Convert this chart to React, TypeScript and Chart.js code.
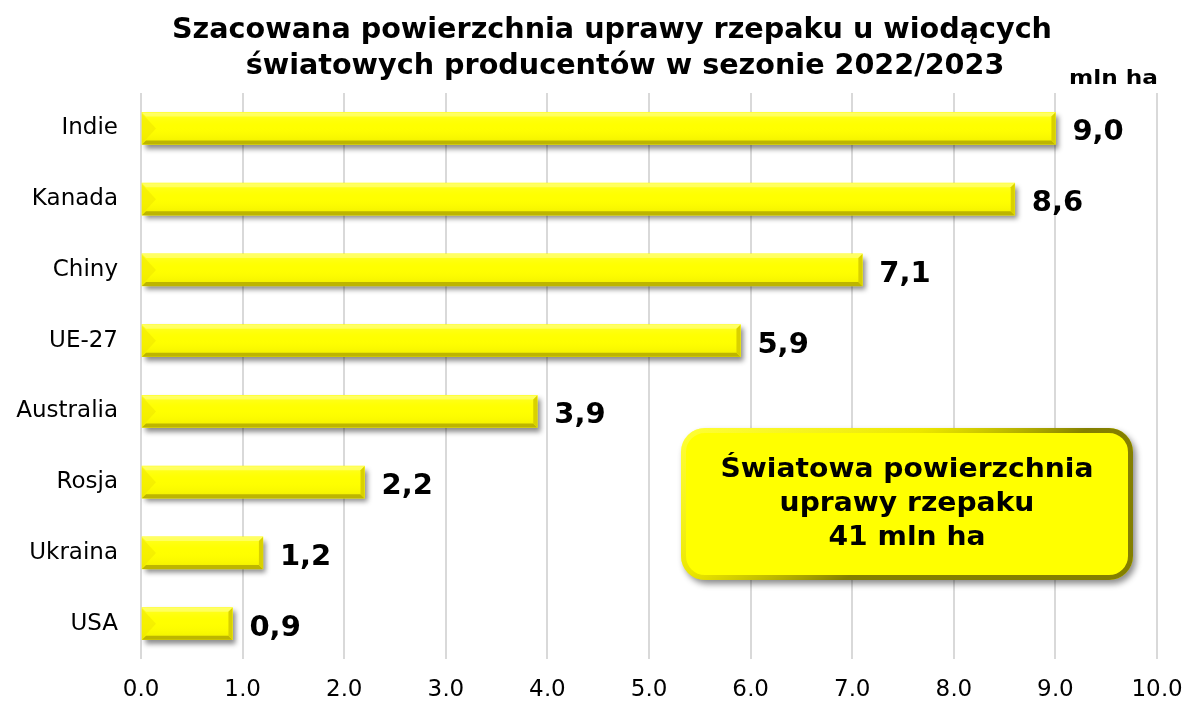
import React, { useEffect, useRef } from "react";
import { Chart, registerables } from "chart.js";

Chart.register(...registerables);

const categories = ["Indie", "Kanada", "Chiny", "UE-27", "Australia", "Rosja", "Ukraina", "USA"];
const values = [9.0, 8.6, 7.1, 5.9, 3.9, 2.2, 1.2, 0.9];
const xMin = 0;
const xMax = 10;
const xStep = 1;
const titleLines = [
  "Szacowana powierzchnia uprawy rzepaku u wiodących",
  "światowych producentów w sezonie 2022/2023",
];
const unitLabel = "mln ha";
const boxLines = ["Światowa powierzchnia", "uprawy rzepaku", "41 mln ha"];

const FONT = "'DejaVu Sans', Verdana, sans-serif";
const fmt = (v: number) => Number(v).toFixed(1).replace(".", ",");

function stretchText(
  ctx: CanvasRenderingContext2D,
  text: string,
  x: number,
  y: number,
  font: string,
  sx: number,
  align: CanvasTextAlign
) {
  ctx.save();
  ctx.font = font;
  ctx.fillStyle = "#000";
  ctx.textAlign = align;
  ctx.textBaseline = "alphabetic";
  ctx.translate(x, y);
  ctx.scale(sx, 1);
  ctx.fillText(text, 0, 0);
  ctx.restore();
}

function fitScale(ctx: CanvasRenderingContext2D, text: string, font: string, target: number) {
  ctx.save();
  ctx.font = font;
  const w = ctx.measureText(text).width;
  ctx.restore();
  return w > 0 ? target / w : 1;
}

function roundRectPath(ctx: CanvasRenderingContext2D, x: number, y: number, w: number, h: number, r: number) {
  ctx.beginPath();
  ctx.moveTo(x + r, y);
  ctx.lineTo(x + w - r, y);
  ctx.arcTo(x + w, y, x + w, y + r, r);
  ctx.lineTo(x + w, y + h - r);
  ctx.arcTo(x + w, y + h, x + w - r, y + h, r);
  ctx.lineTo(x + r, y + h);
  ctx.arcTo(x, y + h, x, y + h - r, r);
  ctx.lineTo(x, y + r);
  ctx.arcTo(x, y, x + r, y, r);
  ctx.closePath();
}

const decorPlugin = {
  id: "decor",
  beforeDatasetsDraw(chart: any) {
    const ctx = chart.ctx as CanvasRenderingContext2D;
    ctx.save();
    ctx.shadowColor = "rgba(0,0,0,0.45)";
    ctx.shadowBlur = 5;
    ctx.shadowOffsetX = 3;
    ctx.shadowOffsetY = 4;
  },
  afterDatasetsDraw(chart: any) {
    const ctx = chart.ctx as CanvasRenderingContext2D;
    ctx.restore();
    const meta = chart.getDatasetMeta(0);
    meta.data.forEach((bar: any, i: number) => {
      const p = bar.getProps(["x", "y", "base", "height"], true);
      const top = p.y - p.height / 2;
      const bottom = p.y + p.height / 2;
      const left = Math.min(p.base, p.x);
      const right = Math.max(p.base, p.x);
      const b = 4;
      ctx.save();
      const g = ctx.createLinearGradient(0, top, 0, bottom);
      g.addColorStop(0, "rgba(255,255,120,0.4)");
      g.addColorStop(0.45, "rgba(255,255,0,0)");
      g.addColorStop(1, "rgba(200,190,0,0.3)");
      ctx.fillStyle = g;
      ctx.fillRect(left, top, right - left, bottom - top);
      const tw = Math.min(14, (right - left) / 2);
      ctx.beginPath();
      ctx.moveTo(left, top + 1);
      ctx.lineTo(left + tw, p.y);
      ctx.lineTo(left, bottom - 1);
      ctx.closePath();
      ctx.fillStyle = "rgba(235,225,0,0.45)";
      ctx.fill();
      ctx.beginPath();
      ctx.moveTo(left, top);
      ctx.lineTo(right, top);
      ctx.lineTo(right - b, top + b);
      ctx.lineTo(left + b, top + b);
      ctx.closePath();
      ctx.fillStyle = "rgba(255,255,170,0.45)";
      ctx.fill();
      ctx.beginPath();
      ctx.moveTo(left, bottom);
      ctx.lineTo(right, bottom);
      ctx.lineTo(right - b, bottom - b);
      ctx.lineTo(left + b, bottom - b);
      ctx.closePath();
      ctx.fillStyle = "#BDB500";
      ctx.fill();
      ctx.beginPath();
      ctx.moveTo(right, top);
      ctx.lineTo(right, bottom);
      ctx.lineTo(right - b, bottom - b);
      ctx.lineTo(right - b, top + b);
      ctx.closePath();
      ctx.fillStyle = "#D9D100";
      ctx.fill();
      ctx.restore();

      ctx.save();
      ctx.font = `bold 29px ${FONT}`;
      ctx.fillStyle = "#000";
      ctx.textAlign = "left";
      ctx.textBaseline = "alphabetic";
      ctx.fillText(fmt(values[i]), right + 17, p.y + 12);
      ctx.restore();
    });
  },
  afterDraw(chart: any) {
    const ctx = chart.ctx as CanvasRenderingContext2D;
    const tFont = `bold 28px ${FONT}`;
    const tsx = fitScale(ctx, titleLines[0], tFont, 880);
    stretchText(ctx, titleLines[0], 604, 30, tFont, tsx, "center");
    stretchText(ctx, titleLines[1], 617, 66, tFont, tsx, "center");
    const uFont = `bold 20px ${FONT}`;
    const usx = fitScale(ctx, unitLabel, uFont, 89);
    stretchText(ctx, unitLabel, 1061, 76, uFont, usx, "left");

    const bx = 673, by = 420, bw = 452, bh = 152, r = 24;
    ctx.save();
    ctx.shadowColor = "rgba(0,0,0,0.45)";
    ctx.shadowBlur = 6;
    ctx.shadowOffsetX = 3;
    ctx.shadowOffsetY = 4;
    roundRectPath(ctx, bx, by, bw, bh, r);
    ctx.fillStyle = "#FFFF00";
    ctx.fill();
    ctx.restore();

    ctx.save();
    roundRectPath(ctx, bx, by, bw, bh, r);
    ctx.clip();
    const eg = ctx.createLinearGradient(bx, by, bx + bw * 0.25, by + bh * 1.2);
    eg.addColorStop(0, "rgba(255,255,150,0.35)");
    eg.addColorStop(0.6, "rgba(215,205,0,0.5)");
    eg.addColorStop(1, "rgba(110,105,0,0.85)");
    ctx.lineWidth = 10;
    ctx.strokeStyle = eg;
    roundRectPath(ctx, bx, by, bw, bh, r);
    ctx.stroke();
    ctx.restore();

    const bFont = `bold 27px ${FONT}`;
    const bsx = fitScale(ctx, boxLines[0], bFont, 373);
    const cx = bx + bw / 2;
    stretchText(ctx, boxLines[0], cx, 469, bFont, bsx, "center");
    stretchText(ctx, boxLines[1], cx, 503, bFont, bsx, "center");
    stretchText(ctx, boxLines[2], cx, 537, bFont, bsx, "center");
  },
};

export default function App() {
  const ref = useRef<HTMLCanvasElement | null>(null);
  useEffect(() => {
    if (!ref.current) return;
    const chart = new Chart(ref.current, {
      type: "bar",
      data: {
        labels: categories,
        datasets: [
          {
            data: values,
            backgroundColor: "#FFFF00",
            borderWidth: 0,
            barThickness: 32,
          },
        ],
      },
      options: {
        animation: false,
        responsive: false,
        devicePixelRatio: 1,
        indexAxis: "y",
        layout: { padding: { top: 85, right: 30, left: 0, bottom: 0 } },
        plugins: {
          legend: { display: false },
          title: { display: false },
          tooltip: { enabled: false },
        },
        scales: {
          x: {
            min: xMin,
            max: xMax,
            ticks: {
              stepSize: xStep,
              callback: function (v: any) {
                return fmt(v);
              },
              color: "#000",
              font: { family: FONT, size: 23, lineHeight: "62px" },
              padding: 0,
            },
            grid: { color: "#D9D9D9", lineWidth: 2, drawTicks: false },
            border: { display: false },
            afterFit: (s: any) => {
              s.height = 37;
            },
          },
          y: {
            ticks: {
              color: "#000",
              font: { family: FONT, size: 23 },
              padding: 23,
            },
            grid: { display: false, drawTicks: false },
            border: { display: false },
            afterFit: (s: any) => {
              s.width = 133;
            },
          },
        },
      },
      plugins: [decorPlugin],
    } as any);
    return () => chart.destroy();
  }, []);
  return (
    <div style={{ width: 1179, height: 688 }}>
      <canvas ref={ref} width={1179} height={688} />
    </div>
  );
}
